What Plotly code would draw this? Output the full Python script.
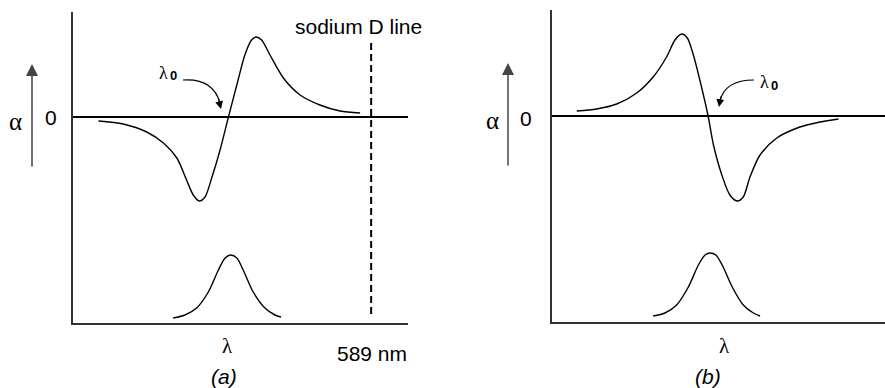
"""
Cotton effect sketch: optical rotation (alpha) vs wavelength
with the absorption band underneath, (a) positive and (b) negative.
"""

import plotly.graph_objects as go

#%%
# Data (x: wavelength, arbitrary units 0-100;
# y: rotation, zero at the baseline, absorption band sits near the bottom)
# ------------------------------------------------------------------------

cotton_a_x = [7.6, 15.0, 22.0, 27.0, 31.0, 33.9, 35.9, 37.7, 39.4, 41.4, 43.9,
              46.4, 48.9, 51.3, 53.3, 54.6, 56.3, 58.8, 62.8, 67.8, 73.7,
              79.7, 85.7]
cotton_a_y = [-0.4, -0.7, -1.5, -2.6, -4.1, -6.3, -7.8, -8.4, -8.0, -6.1, -3.3,
              0.0, 3.2, 6.2, 7.7, 8.0, 7.7, 6.2, 3.9, 2.2, 1.2, 0.6, 0.4]

cotton_b_x = [7.4, 13.3, 19.3, 25.3, 30.2, 34.2, 36.7, 38.7, 40.4, 42.2, 44.7,
              46.6, 48.2, 50.7, 53.1, 55.3, 57.1, 59.1, 62.1, 67.1, 74.0,
              80.0, 85.5]
cotton_b_y = [0.5, 0.7, 1.2, 2.3, 3.9, 5.9, 7.6, 8.2, 7.8, 6.1, 2.8,
              0.0, -2.9, -5.9, -7.9, -8.5, -8.1, -6.1, -3.9, -2.2, -1.1,
              -0.6, -0.3]

absorb_a_x = [29.9, 33.4, 36.9, 40.4, 43.4, 45.4, 47.1, 48.9, 50.8, 53.8,
              57.3, 60.3, 62.1]
absorb_a_y = [-20.1, -19.8, -19.1, -17.5, -15.3, -14.1, -13.8, -14.1, -15.3,
              -17.5, -19.1, -19.8, -20.0]

absorb_b_x = [30.2, 33.7, 37.2, 40.7, 43.7, 45.7, 47.2, 48.9, 50.8, 53.8,
              57.1, 60.1, 62.1]
absorb_b_y = [-20.0, -19.7, -18.9, -17.1, -14.9, -13.9, -13.7, -13.9, -14.9,
              -17.1, -18.9, -19.7, -20.0]

sodium_d_x = [89.0, 89.0]
sodium_d_y = [7.4, -20.1]

#%%
# Layout helpers (pixel -> paper)
# -------------------------------

W, H = 885, 388
SANS = "Liberation Sans, Arial, sans-serif"
SERIF = "Liberation Serif, Times New Roman, serif"
AXIS_COLOR = "#333333"


def fx(px):
    return px / W


def fy(py):
    return 1 - py / H


def label(text, px, py, size=21, family=SANS):
    return dict(text=text, x=fx(px), y=fy(py), xref="paper", yref="paper",
                showarrow=False, xanchor="center", yanchor="middle",
                font=dict(family=family, size=size, color="black"))


def arrow_head(px, py, ax, ay, width=1.2, size=1.3, color="black"):
    return dict(text="", x=fx(px), y=fy(py), xref="paper", yref="paper",
                ax=ax, ay=ay, showarrow=True, arrowhead=2, arrowsize=size,
                arrowwidth=width, arrowcolor=color, standoff=0)


def curve_path(p0, c, p1):
    return (f"M {fx(p0[0])},{fy(p0[1])} Q {fx(c[0])},{fy(c[1])} "
            f"{fx(p1[0])},{fy(p1[1])}")


#%%
# Build figure
# ------------

line = dict(color="black", width=1.4, shape="spline", smoothing=0.8)

fig = go.Figure()
fig.add_trace(go.Scatter(x=cotton_a_x, y=cotton_a_y, mode="lines", line=line,
                         xaxis="x", yaxis="y"))
fig.add_trace(go.Scatter(x=absorb_a_x, y=absorb_a_y, mode="lines", line=line,
                         xaxis="x", yaxis="y"))
fig.add_trace(go.Scatter(x=sodium_d_x, y=sodium_d_y, mode="lines",
                         line=dict(color="black", width=2, dash="7px,4px"),
                         xaxis="x", yaxis="y"))
fig.add_trace(go.Scatter(x=cotton_b_x, y=cotton_b_y, mode="lines", line=line,
                         xaxis="x2", yaxis="y2"))
fig.add_trace(go.Scatter(x=absorb_b_x, y=absorb_b_y, mode="lines", line=line,
                         xaxis="x2", yaxis="y2"))

x_common = dict(showline=True, linecolor=AXIS_COLOR, linewidth=1.6,
                showgrid=False, zeroline=False, showticklabels=False,
                ticks="", fixedrange=True)
y_common = dict(showline=True, linecolor=AXIS_COLOR, linewidth=1.6,
                showgrid=False, zeroline=True, zerolinecolor="black",
                zerolinewidth=2.2, showticklabels=False, ticks="",
                fixedrange=True)

annotations = [
    # panel (a)
    label("α", 15, 121, size=25, family=SERIF),
    label("0", 51, 117),
    arrow_head(32, 64, 0, 104, width=1.5, size=1.6, color="#444444"),
    label("λ", 163, 73, size=18, family=SERIF),
    label("<b>0</b>", 173, 76, size=13),
    arrow_head(221, 109, -3, -12),
    label("sodium D line", 358, 27),
    label("λ", 227, 346, size=21, family=SERIF),
    label("589 nm", 372, 353),
    label("<i>(a)</i>", 224, 376),
    # panel (b)
    label("α", 492, 120, size=25, family=SERIF),
    label("0", 526, 118),
    arrow_head(508, 63, 0, 104, width=1.5, size=1.6, color="#444444"),
    label("λ", 764, 82, size=18, family=SERIF),
    label("<b>0</b>", 774, 85, size=13),
    arrow_head(719, 107, 2, -12),
    label("λ", 724, 346, size=21, family=SERIF),
    label("<i>(b)</i>", 708, 376),
]

shapes = [
    dict(type="path", xref="paper", yref="paper",
         path=curve_path((183, 80), (213, 78), (220, 103)),
         line=dict(color="black", width=1.2)),
    dict(type="path", xref="paper", yref="paper",
         path=curve_path((754, 80), (725, 80), (720, 101)),
         line=dict(color="black", width=1.2)),
]

fig.update_layout(
    width=W, height=H,
    margin=dict(l=0, r=0, t=0, b=0),
    paper_bgcolor="white", plot_bgcolor="white",
    showlegend=False,
    xaxis=dict(domain=[fx(73), fx(408)], range=[0, 100], anchor="y",
               **x_common),
    yaxis=dict(domain=[fy(323), fy(12)], range=[-20.6, 10.5], anchor="x",
               **y_common),
    xaxis2=dict(domain=[fx(552), 1.0], range=[0, 99.4], anchor="y2",
                **x_common),
    yaxis2=dict(domain=[fy(322), fy(10)], range=[-20.6, 10.6], anchor="x2",
                **y_common),
    annotations=annotations,
    shapes=shapes,
)

# the browser's default body margin would push the figure 8px off
fig.write_html("out.html",
               config={"displayModeBar": False},
               post_script="document.body.style.margin = '0';")
